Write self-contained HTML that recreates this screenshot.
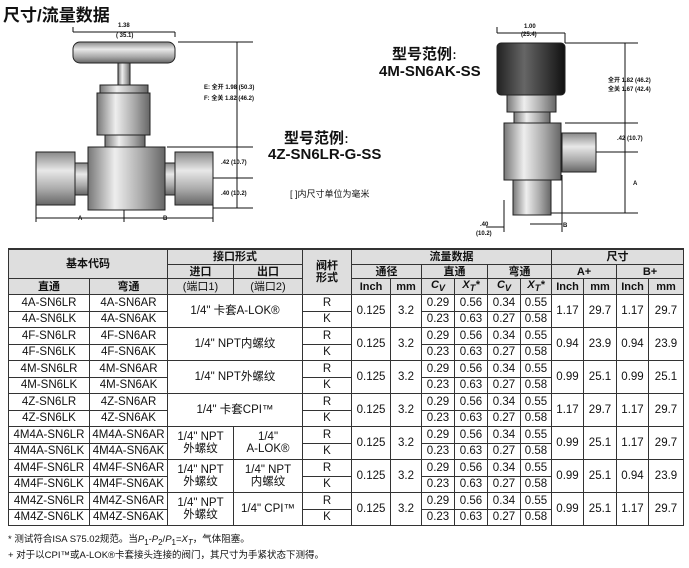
<!DOCTYPE html>
<html><head><meta charset="utf-8"><style>
body{margin:0;width:689px;height:568px;background:#fff;position:relative;overflow:hidden;font-family:"Liberation Sans","Noto Sans CJK SC",sans-serif;color:#111}
.a{position:absolute;white-space:nowrap}
table{position:absolute;left:8px;top:248px;width:675px;border-collapse:collapse;table-layout:fixed;font-family:"Liberation Sans Narrow","Liberation Sans","Noto Sans CJK SC",sans-serif;font-size:11.5px;border-top:2px solid #333}
td{border:1px solid #333;text-align:center;padding:0;line-height:12px;overflow:hidden;white-space:nowrap}
tr.h td{background:#dedede;font-weight:bold;font-size:11px}
tr.h1 td{height:14px}tr.h2 td{height:13px}tr.h3 td{height:14px}
tr.d td{height:15.5px}
</style></head><body>
<div class="a" style="left:3px;top:1px;font-size:17px;font-weight:bold">尺寸/流量数据</div>
<svg class="a" style="left:0;top:0" width="689" height="245">
<defs>
<linearGradient id="gv" x1="0" y1="0" x2="0" y2="1"><stop offset="0" stop-color="#888"/><stop offset=".35" stop-color="#e8e8e8"/><stop offset=".7" stop-color="#aaa"/><stop offset="1" stop-color="#666"/></linearGradient>
<linearGradient id="gh" x1="0" y1="0" x2="1" y2="0"><stop offset="0" stop-color="#777"/><stop offset=".35" stop-color="#eee"/><stop offset=".7" stop-color="#aaa"/><stop offset="1" stop-color="#666"/></linearGradient>
<linearGradient id="gk" x1="0" y1="0" x2="1" y2="0"><stop offset="0" stop-color="#222"/><stop offset=".4" stop-color="#666"/><stop offset="1" stop-color="#111"/></linearGradient>
</defs>
<g stroke="#222" stroke-width="1">
<rect x="73" y="42" width="102" height="21" rx="7" fill="url(#gv)"/>
<rect x="118" y="63" width="12" height="23" fill="url(#gh)"/>
<rect x="100" y="85" width="48" height="9" fill="url(#gh)"/>
<rect x="97" y="93" width="53" height="42" fill="url(#gh)"/>
<rect x="105" y="135" width="40" height="12" fill="url(#gh)"/>
<rect x="88" y="147" width="77" height="63" fill="url(#gh)"/>
<rect x="75" y="163" width="13" height="32" fill="url(#gv)"/>
<rect x="165" y="163" width="11" height="32" fill="url(#gv)"/>
<rect x="36" y="152" width="39" height="53" fill="url(#gv)"/>
<rect x="175" y="152" width="38" height="53" fill="url(#gv)"/>
<rect x="497" y="43" width="68" height="52" rx="4" fill="url(#gk)"/>
<rect x="507" y="95" width="49" height="17" fill="url(#gh)"/>
<rect x="514" y="112" width="36" height="11" fill="url(#gh)"/>
<rect x="504" y="123" width="57" height="57" fill="url(#gh)"/>
<rect x="562" y="133" width="34" height="39" fill="url(#gv)"/>
<rect x="513" y="180" width="38" height="35" fill="url(#gh)"/>
</g>
<g stroke="#111" stroke-width="1" fill="none">
<path d="M73 32V27M175 32V37M73 32H175"/>
<path d="M178 42H253M237 42V147M167 147H253M237 147V178M213 178H253M237 178V208M213 208H253"/>
<path d="M36 205V222M124 210V222M213 205V222M36 218H124M124 218H213"/>
<path d="M497 33V27M565 33V43M497 33H565M565 43H638M625 43V123M565 123H638M625 123V152M596 152H638M625 152V213M551 213H638"/>
<path d="M504 200V232M562 175V232M530 224H562M486 227H504"/>
</g>
<g font-family="Liberation Sans,Noto Sans CJK SC,sans-serif" font-size="6" font-weight="bold" fill="#111">
<text x="118" y="27">1.38</text><text x="116" y="37">( 35.1)</text>
<text x="204" y="89">E: 全开 1.98 (50.3)</text><text x="204" y="100">F: 全关 1.82 (46.2)</text>
<text x="221" y="164">.42 (10.7)</text><text x="221" y="195">.40 (10.2)</text>
<text x="78" y="220">A</text><text x="163" y="220">B</text>
<text x="524" y="28">1.00</text><text x="521" y="36">(25.4)</text>
<text x="608" y="82">全开 1.82 (46.2)</text><text x="608" y="91">全关 1.67 (42.4)</text>
<text x="617" y="140">.42 (10.7)</text><text x="633" y="185">A</text>
<text x="480" y="226">.40</text><text x="476" y="235">(10.2)</text><text x="563" y="227">B</text>
</g>
</svg>
<div class="a" style="left:284px;top:127px;font-size:15px;font-weight:bold">型号范例<span style="font-size:10px">：</span></div>
<div class="a" style="left:268px;top:146px;font-size:15px;font-weight:bold">4Z-SN6LR-G-SS</div>
<div class="a" style="left:290px;top:187px;font-size:9px">[ ]内尺寸单位为毫米</div>
<div class="a" style="left:392px;top:43px;font-size:15px;font-weight:bold">型号范例<span style="font-size:10px">：</span></div>
<div class="a" style="left:379px;top:63px;font-size:15px;font-weight:bold">4M-SN6AK-SS</div>
<table>
<colgroup><col style="width:81px"><col style="width:78px"><col style="width:66px"><col style="width:69px"><col style="width:49px"><col style="width:39px"><col style="width:31px"><col style="width:33px"><col style="width:33px"><col style="width:33px"><col style="width:31px"><col style="width:32px"><col style="width:33px"><col style="width:32px"><col style="width:35px"></colgroup>
<tr class="h h1"><td colspan="2" rowspan="2">基本代码</td><td colspan="2">接口形式</td><td rowspan="3">阀杆<br>形式</td><td colspan="6">流量数据</td><td colspan="4">尺寸</td></tr>
<tr class="h h2"><td>进口</td><td>出口</td><td colspan="2">通径</td><td colspan="2">直通</td><td colspan="2">弯通</td><td colspan="2">A+</td><td colspan="2">B+</td></tr>
<tr class="h h3"><td>直通</td><td>弯通</td><td style="font-weight:normal">(端口1)</td><td style="font-weight:normal">(端口2)</td><td>Inch</td><td>mm</td><td><i>C<sub>V</sub></i></td><td><i>X<sub>T</sub>*</i></td><td><i>C<sub>V</sub></i></td><td><i>X<sub>T</sub>*</i></td><td>Inch</td><td>mm</td><td>Inch</td><td>mm</td></tr>
<tr class="d"><td>4A-SN6LR</td><td>4A-SN6AR</td><td colspan="2" rowspan="2">1/4" 卡套A-LOK®</td><td>R</td><td rowspan="2">0.125</td><td rowspan="2">3.2</td><td>0.29</td><td>0.56</td><td>0.34</td><td>0.55</td><td rowspan="2">1.17</td><td rowspan="2">29.7</td><td rowspan="2">1.17</td><td rowspan="2">29.7</td></tr>
<tr class="d"><td>4A-SN6LK</td><td>4A-SN6AK</td><td>K</td><td>0.23</td><td>0.63</td><td>0.27</td><td>0.58</td></tr>
<tr class="d"><td>4F-SN6LR</td><td>4F-SN6AR</td><td colspan="2" rowspan="2">1/4" NPT内螺纹</td><td>R</td><td rowspan="2">0.125</td><td rowspan="2">3.2</td><td>0.29</td><td>0.56</td><td>0.34</td><td>0.55</td><td rowspan="2">0.94</td><td rowspan="2">23.9</td><td rowspan="2">0.94</td><td rowspan="2">23.9</td></tr>
<tr class="d"><td>4F-SN6LK</td><td>4F-SN6AK</td><td>K</td><td>0.23</td><td>0.63</td><td>0.27</td><td>0.58</td></tr>
<tr class="d"><td>4M-SN6LR</td><td>4M-SN6AR</td><td colspan="2" rowspan="2">1/4" NPT外螺纹</td><td>R</td><td rowspan="2">0.125</td><td rowspan="2">3.2</td><td>0.29</td><td>0.56</td><td>0.34</td><td>0.55</td><td rowspan="2">0.99</td><td rowspan="2">25.1</td><td rowspan="2">0.99</td><td rowspan="2">25.1</td></tr>
<tr class="d"><td>4M-SN6LK</td><td>4M-SN6AK</td><td>K</td><td>0.23</td><td>0.63</td><td>0.27</td><td>0.58</td></tr>
<tr class="d"><td>4Z-SN6LR</td><td>4Z-SN6AR</td><td colspan="2" rowspan="2">1/4" 卡套CPI™</td><td>R</td><td rowspan="2">0.125</td><td rowspan="2">3.2</td><td>0.29</td><td>0.56</td><td>0.34</td><td>0.55</td><td rowspan="2">1.17</td><td rowspan="2">29.7</td><td rowspan="2">1.17</td><td rowspan="2">29.7</td></tr>
<tr class="d"><td>4Z-SN6LK</td><td>4Z-SN6AK</td><td>K</td><td>0.23</td><td>0.63</td><td>0.27</td><td>0.58</td></tr>
<tr class="d"><td>4M4A-SN6LR</td><td>4M4A-SN6AR</td><td rowspan="2">1/4" NPT<br>外螺纹</td><td rowspan="2">1/4"<br>A-LOK®</td><td>R</td><td rowspan="2">0.125</td><td rowspan="2">3.2</td><td>0.29</td><td>0.56</td><td>0.34</td><td>0.55</td><td rowspan="2">0.99</td><td rowspan="2">25.1</td><td rowspan="2">1.17</td><td rowspan="2">29.7</td></tr>
<tr class="d"><td>4M4A-SN6LK</td><td>4M4A-SN6AK</td><td>K</td><td>0.23</td><td>0.63</td><td>0.27</td><td>0.58</td></tr>
<tr class="d"><td>4M4F-SN6LR</td><td>4M4F-SN6AR</td><td rowspan="2">1/4" NPT<br>外螺纹</td><td rowspan="2">1/4" NPT<br>内螺纹</td><td>R</td><td rowspan="2">0.125</td><td rowspan="2">3.2</td><td>0.29</td><td>0.56</td><td>0.34</td><td>0.55</td><td rowspan="2">0.99</td><td rowspan="2">25.1</td><td rowspan="2">0.94</td><td rowspan="2">23.9</td></tr>
<tr class="d"><td>4M4F-SN6LK</td><td>4M4F-SN6AK</td><td>K</td><td>0.23</td><td>0.63</td><td>0.27</td><td>0.58</td></tr>
<tr class="d"><td>4M4Z-SN6LR</td><td>4M4Z-SN6AR</td><td rowspan="2">1/4" NPT<br>外螺纹</td><td rowspan="2">1/4" CPI™</td><td>R</td><td rowspan="2">0.125</td><td rowspan="2">3.2</td><td>0.29</td><td>0.56</td><td>0.34</td><td>0.55</td><td rowspan="2">0.99</td><td rowspan="2">25.1</td><td rowspan="2">1.17</td><td rowspan="2">29.7</td></tr>
<tr class="d"><td>4M4Z-SN6LK</td><td>4M4Z-SN6AK</td><td>K</td><td>0.23</td><td>0.63</td><td>0.27</td><td>0.58</td></tr>
</table>
<div class="a" style="left:8px;top:531px;font-size:9.5px">* 测试符合ISA S75.02规范。当<i>P</i><sub>1</sub>-<i>P</i><sub>2</sub>/<i>P</i><sub>1</sub>=<i>X<sub>T</sub></i>，气体阻塞。</div>
<div class="a" style="left:8px;top:547px;font-size:9.5px">+ 对于以CPI™或A-LOK®卡套接头连接的阀门，其尺寸为手紧状态下测得。</div>
</body></html>
